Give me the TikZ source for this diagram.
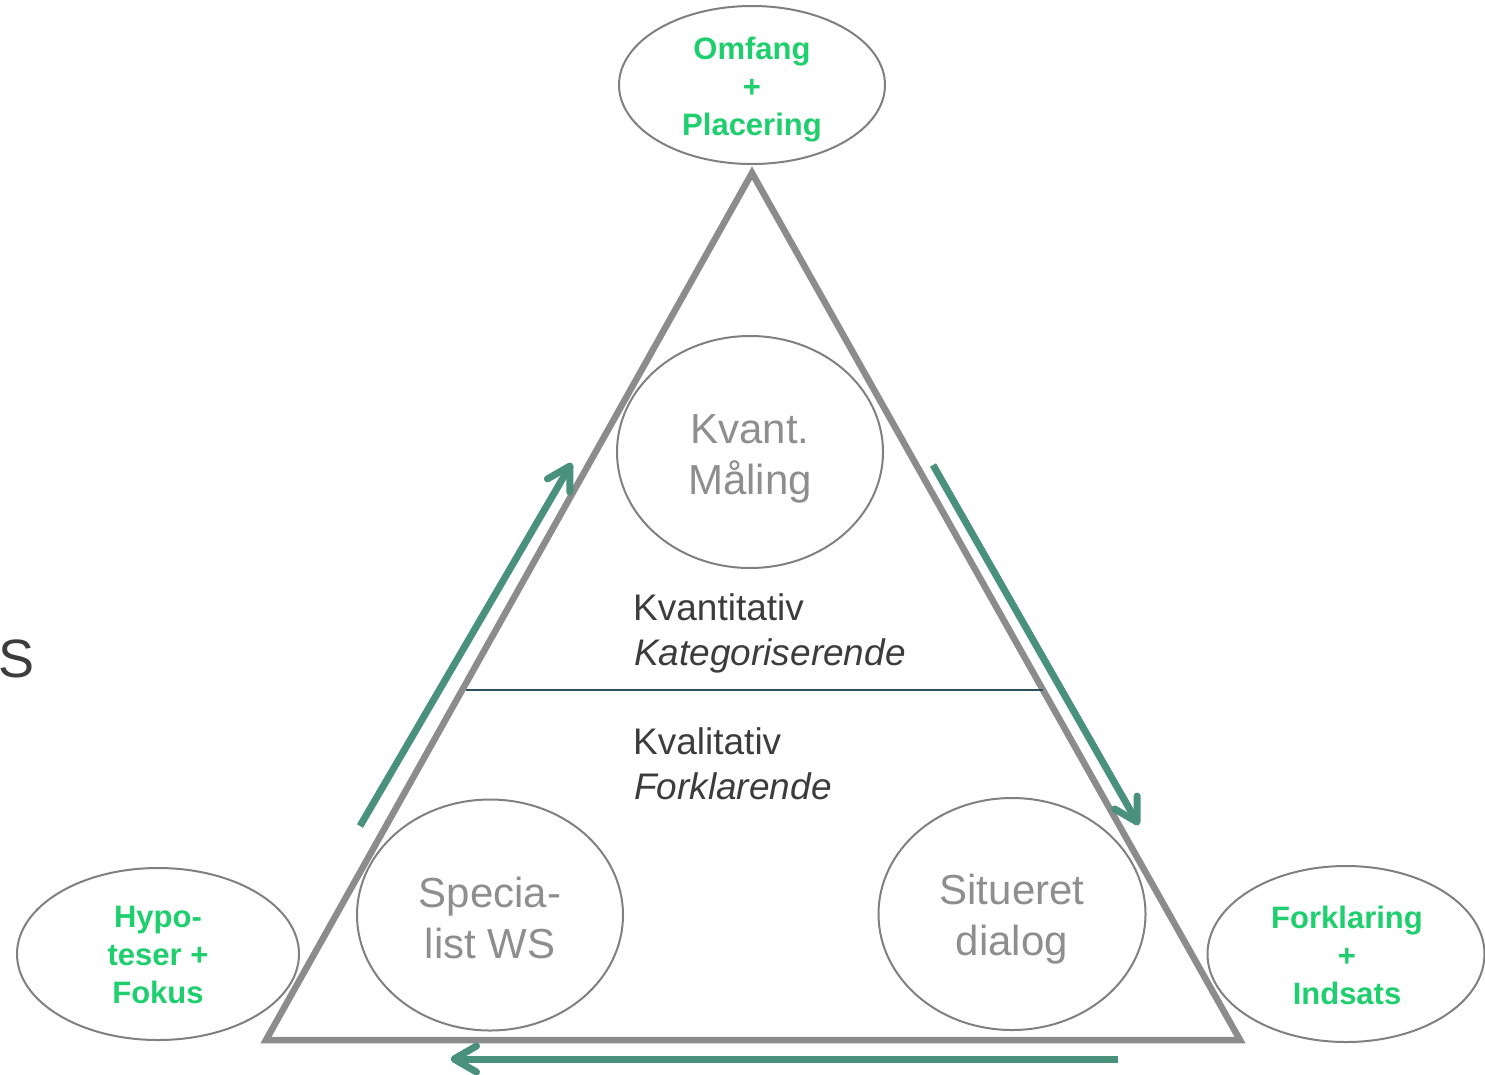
\documentclass[tikz,border=0pt]{standalone}
\usepackage{fontspec}
\setmainfont{Liberation Sans}
\usetikzlibrary{shapes.geometric,calc}
\definecolor{edgegray}{HTML}{808080}
\definecolor{trigray}{HTML}{8C8C8C}
\definecolor{labgray}{HTML}{8E8E8E}
\definecolor{green1}{HTML}{1FCF6E}
\definecolor{teal1}{HTML}{4A917D}
\definecolor{dark1}{HTML}{3C3C3C}
\definecolor{sep1}{HTML}{2F4F5F}
\tikzset{
  oval/.style={ellipse, draw=edgegray, line width=2pt, inner sep=0pt},
  greentext/.style={text=green1, font=\fontsize{31}{38}\selectfont\bfseries, align=center},
  graytext/.style={text=labgray, font=\fontsize{42}{51}\selectfont, align=center},
  darktext/.style={text=dark1, font=\fontsize{37}{45}\selectfont, anchor=base west, inner sep=0pt},
  flow/.style={draw=teal1, line width=7pt},
  flowhead/.style={draw=teal1, line width=7pt, line cap=round, line join=round},
}
\newcommand{\flowarrow}[2]{%
  \draw[flow] (#1) -- ($(#2)!3pt!(#1)$);
  \draw[flowhead] ($(#2)!26pt!30:(#1)$) -- (#2) -- ($(#2)!26pt!-30:(#1)$);
}
\begin{document}
\begin{tikzpicture}[x=1pt,y=-1pt]
\useasboundingbox (0,0) rectangle (1485,1074);
% triangle
\coordinate (apex) at (752,173);
\coordinate (bl) at (266,1040);
\coordinate (br) at (1240,1040);
\draw[trigray, line width=6.5pt, line join=miter] (apex) -- (br) -- (bl) -- cycle;
% separator
\coordinate (s1) at (466,690);
\coordinate (s2) at (1043,690);
\draw[sep1, line width=2pt] (s1) -- (s2);
% ovals
\node[oval, minimum width=266pt, minimum height=158pt] (top) at (752,85) {};
\node[greentext] (toptxt) at (752,90) {Omfang\\+\\Placering};
\node[oval, minimum width=266pt, minimum height=232pt] (kvant) at (750,452) {};
\node[graytext] (kvanttxt) at (750,459) {Kvant.\\Måling};
\node[oval, minimum width=266pt, minimum height=231pt] (spec) at (490,915) {};
\node[graytext] (spectxt) at (490,918) {Specia-\\list WS};
\node[oval, minimum width=267pt, minimum height=232pt] (sit) at (1012,914) {};
\node[graytext] (sittxt) at (1012,919) {Situeret\\dialog};
\node[oval, minimum width=282pt, minimum height=172pt] (hyp) at (158,954) {};
\node[greentext] (hyptxt) at (158,955) {Hypo-\\teser +\\Fokus};
\node[oval, minimum width=277pt, minimum height=176pt] (fork) at (1346,954) {};
\node[greentext] (forktxt) at (1347,955) {Forklaring\\+\\Indsats};
% middle labels
\node[darktext] (kv1) at (633,620) {Kvantitativ};
\node[darktext] (kv2) at (634,665) {\itshape Kategoriserende};
\node[darktext] (kl1) at (633,754) {Kvalitativ};
\node[darktext] (kl2) at (634,799) {\itshape Forklarende};
% S
\node[text=dark1, font=\fontsize{54}{60}\selectfont, anchor=base west, inner sep=0pt] (s) at (-2,677) {S};
% arrows
\coordinate (a1s) at (360,826);
\coordinate (a1e) at (570,466);
\coordinate (a2s) at (933,465);
\coordinate (a2e) at (1137,822);
\coordinate (a3s) at (1118,1059);
\coordinate (a3e) at (454,1059);
\flowarrow{a1s}{a1e}
\flowarrow{a2s}{a2e}
\flowarrow{a3s}{a3e}
\end{tikzpicture}
\end{document}
